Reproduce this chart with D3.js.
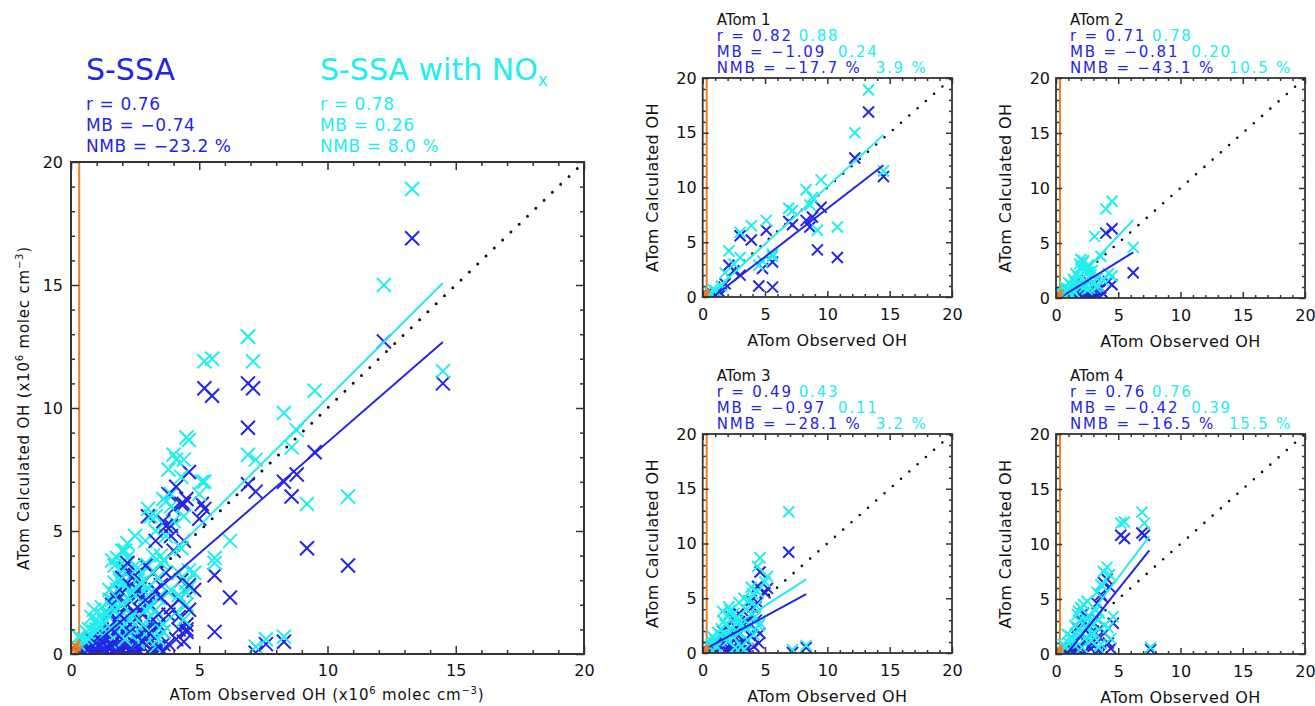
<!DOCTYPE html>
<html>
<head>
<meta charset="utf-8">
<script src="https://cdn.jsdelivr.net/npm/d3@7"></script>
<style>
body { margin: 0; background: #fff; }
text { font-family: "DejaVu Sans", sans-serif; }
</style>
</head>
<body>
<script>
// ---- data (x = observed OH, y = calculated OH, 1e6 molec cm-3) ----
var atom1Obs = [13.3, 12.2, 14.5, 9.5, 10.8, 9.2, 8.3, 8.6, 7.2, 8.8, 5.1, 3.0, 3.9, 2.1, 3.0, 4.5, 5.6, 5.6, 2.5, 1.5, 1.0, 0.6, 4.8, 6.9, 1.8, 0.8];
var atom1SSA = [16.9, 12.7, 11.0, 8.2, 3.6, 4.3, 7.0, 6.4, 6.6, 7.3, 6.1, 5.6, 5.2, 2.9, 2.0, 1.0, 0.9, 3.2, 2.4, 0.3, 0.2, 0.1, 2.6, 6.9, 1.2, 0.3];
var atom1NOx = [18.9, 15.0, 11.5, 10.7, 6.4, 6.1, 9.8, 8.4, 7.9, 9.1, 7.0, 5.9, 6.5, 4.2, 3.6, 2.9, 3.7, 3.9, 3.0, 1.0, 0.6, 0.4, 3.3, 8.1, 2.2, 0.7];

var atom2Obs = [6.2, 4.5, 4.0, 3.1, 3.6, 4.5, 2.6, 2.2, 2.0, 1.8, 2.4, 1.5, 1.2, 0.9, 0.6, 1.0, 2.8, 3.3, 2.0, 1.6, 0.5, 1.3, 2.5, 4.2, 3.0, 2.3, 1.9, 0.8, 1.1, 2.7, 3.4, 0.4,
                0.7, 1.4, 1.7, 2.1, 2.6, 3.2, 2.9, 1.9, 2.2, 1.0, 0.3, 2.5, 3.8, 1.5];
var atom2SSA = [2.3, 6.3, 5.9, 1.3, 0.9, 1.2, 0.8, 0.5, 0.9, 0.3, 0.2, 0.6, 0.2, 0.1, 0.1, 0.4, 0.3, 0.7, 1.2, 0.4, 0.0, 0.1, 1.6, 1.5, 0.5, 0.1, 0.0, 0.2, 0.0, 0.1, 0.2, 0.1,
                0.0, 0.1, 0.0, 0.3, 0.4, 0.1, 0.6, 0.7, 1.3, 0.2, 0.0, 0.0, 0.4, 0.0];
var atom2NOx = [4.6, 8.8, 8.1, 5.6, 3.8, 2.0, 2.4, 3.3, 2.8, 1.9, 1.6, 1.5, 1.2, 0.9, 0.5, 0.6, 2.1, 1.8, 3.5, 2.2, 0.3, 0.8, 2.7, 2.2, 1.4, 1.0, 1.2, 0.7, 0.4, 0.9, 1.1, 0.6,
                1.0, 1.7, 1.3, 2.6, 3.0, 1.0, 2.5, 3.1, 3.4, 1.4, 0.7, 0.8, 1.6, 0.5];

var atom3Obs = [6.9, 4.6, 4.4, 5.2, 5.0, 4.5, 7.2, 8.3, 4.0, 3.7, 3.3, 2.5, 2.0, 2.8, 2.3, 1.8, 1.4, 1.0, 0.7, 3.6, 3.1, 2.6, 4.2, 4.6, 3.9, 1.6, 2.1, 1.2, 0.5, 4.4, 3.4, 2.9, 1.9, 0.9,
                2.2, 2.7, 3.0, 3.5, 1.5, 2.4, 3.8, 4.3, 1.1, 0.8, 3.3, 2.0, 1.7, 4.1, 2.9];
var atom3SSA = [9.2, 7.4, 6.1, 5.9, 5.5, 0.9, 0.05, 0.5, 4.2, 3.3, 2.6, 3.0, 2.5, 1.6, 0.9, 1.4, 0.6, 0.3, 0.2, 0.4, 0.2, 0.1, 2.2, 1.8, 4.8, 2.0, 3.5, 1.0, 0.1, 4.6, 1.2, 0.7, 0.3, 0.1,
                2.0, 2.3, 1.0, 2.8, 1.6, 0.5, 1.6, 3.0, 0.1, 0.6, 0.0, 0.2, 0.9, 0.6, 3.6];
var atom3NOx = [12.9, 8.7, 7.9, 7.0, 6.5, 2.5, 0.3, 0.7, 5.4, 4.8, 5.0, 3.6, 3.4, 2.9, 2.2, 2.6, 1.6, 1.2, 0.8, 1.2, 0.6, 0.5, 3.3, 2.7, 6.0, 3.8, 4.2, 1.9, 0.6, 5.6, 2.3, 1.8, 1.5, 0.9,
                3.9, 3.2, 2.4, 4.0, 2.2, 1.5, 2.5, 4.3, 0.6, 1.5, 0.3, 1.1, 2.9, 1.7, 4.6];

var atom4Obs = [6.9, 7.1, 5.2, 5.5, 4.1, 3.8, 4.3, 3.6, 3.3, 7.6, 4.2, 3.4, 2.2, 2.0, 1.8, 2.6, 3.0, 3.4, 2.8, 2.4, 1.5, 1.2, 1.0, 0.7, 1.6, 2.0, 3.7, 0.4, 4.6, 2.9, 3.9, 1.3,
                1.9, 2.3, 2.7, 3.1, 3.5, 1.4, 0.9, 1.7, 2.5, 3.2, 0.6, 2.1, 4.4, 3.6];
var atom4SSA = [11.0, 10.8, 10.8, 10.5, 6.8, 6.5, 6.1, 5.4, 4.6, 0.4, 1.0, 1.6, 3.7, 3.1, 2.2, 2.6, 2.1, 0.3, 0.5, 1.3, 1.1, 0.5, 0.2, 0.1, 0.3, 0.6, 5.2, 0.0, 2.8, 1.0, 1.9, 0.2,
                1.6, 0.2, 1.8, 0.8, 2.3, 0.3, 0.5, 2.4, 3.2, 3.3, 0.0, 0.0, 0.5, 0.1];
var atom4NOx = [12.9, 11.9, 11.9, 12.0, 7.9, 7.5, 7.2, 6.3, 5.6, 0.6, 2.4, 3.1, 4.5, 4.2, 3.9, 3.5, 2.7, 0.6, 1.2, 2.5, 2.6, 1.6, 1.0, 0.6, 1.9, 2.0, 6.2, 0.3, 3.4, 1.8, 2.6, 1.3,
                3.0, 1.4, 2.9, 1.9, 3.7, 0.9, 1.8, 3.6, 4.8, 4.0, 0.9, 0.6, 1.4, 0.9];

// orange: points near origin and the vertical reference line
var orangeObs = [0.1, 0.2, 0.15];
var orangeCalc = [0.2, 0.1, 0.35];
var orangeLineX = 0.32;

// fits [slope, intercept, xStart, xEnd] : all, ATom1..4
var fitSSA = [[0.905, -0.44, 0.5, 14.5], [0.88, -0.73, 0.83, 14.5], [0.70, -0.19, 0.3, 6.2], [0.62, 0.23, 0.3, 8.3], [1.42, -1.22, 0.86, 7.5]];
var fitNOx = [[1.04, 0.0, 0.25, 14.5], [1.05, -0.42, 0.4, 14.5], [1.2, -0.35, 0.3, 6.2], [0.73, 0.66, 0.3, 8.3], [1.49, -0.48, 0.32, 7.5]];

// statistics : all, ATom1..4
var rSSA = [0.76, 0.82, 0.71, 0.49, 0.76];
var rNOx = [0.78, 0.88, 0.78, 0.43, 0.76];
var mbSSA = [-0.74, -1.09, -0.81, -0.97, -0.42];
var mbNOx = [0.26, 0.24, 0.20, 0.11, 0.39];
var nmbSSA = [-23.2, -17.7, -43.1, -28.1, -16.5];
var nmbNOx = [8.0, 3.9, 10.5, 3.2, 15.5];

var campaigns = ["ATom 1", "ATom 2", "ATom 3", "ATom 4"];
var majorTicks = [0, 5, 10, 15, 20];
var minorTicks = d3.range(0, 21).filter(function(d) { return d % 5 != 0; });

var obsAll = [atom1Obs, atom2Obs, atom3Obs, atom4Obs];
var ssaAll = [atom1SSA, atom2SSA, atom3SSA, atom4SSA];
var noxAll = [atom1NOx, atom2NOx, atom3NOx, atom4NOx];

var blue = "#2525e6", cyan = "#22eeee", orange = "#f07d1e", axisCol = "#333";
var f2 = d3.format(".2f"), f1 = d3.format(".1f");

var width = 1315, height = 706;
var svg = d3.select("body").append("svg")
    .attr("width", width)
    .attr("height", height);

function cross(s) {
    return "M" + (-s) + "," + (-s) + "L" + s + "," + s + "M" + (-s) + "," + s + "L" + s + "," + (-s);
}

function drawPanel(id, box, sets, fitIdx, opt) {
    var g = svg.append("g").attr("transform", "translate(" + box.x + "," + box.y + ")");
    var x = d3.scaleLinear().domain([0, 20]).range([0, box.w]);
    var y = d3.scaleLinear().domain([0, 20]).range([box.h, 0]);

    g.append("clipPath").attr("id", "clip" + id)
      .append("rect").attr("width", box.w).attr("height", box.h);
    var plot = g.append("g").attr("clip-path", "url(#clip" + id + ")");

    // orange reference line
    plot.append("line")
        .attr("x1", x(orangeLineX)).attr("x2", x(orangeLineX))
        .attr("y1", y(0)).attr("y2", y(20))
        .attr("stroke", orange).attr("stroke-width", 2);

    // 1:1 dotted
    plot.append("line")
        .attr("x1", x(0)).attr("y1", y(0)).attr("x2", x(20)).attr("y2", y(20))
        .attr("stroke", "#111").attr("stroke-width", opt.dot)
        .attr("stroke-linecap", "round")
        .attr("stroke-dasharray", "0," + opt.dotGap);

    // markers: per campaign, S-SSA then S-SSA with NOx
    sets.forEach(function(k) {
        var pts = obsAll[k].map(function(v, i) { return [v, ssaAll[k][i], noxAll[k][i]]; });
        plot.selectAll(null).data(pts).enter().append("path")
            .attr("d", cross(opt.ms))
            .attr("transform", function(d) { return "translate(" + x(d[0]) + "," + y(d[1]) + ")"; })
            .attr("stroke", blue).attr("stroke-width", 2).attr("fill", "none");
        plot.selectAll(null).data(pts).enter().append("path")
            .attr("d", cross(opt.ms))
            .attr("transform", function(d) { return "translate(" + x(d[0]) + "," + y(d[2]) + ")"; })
            .attr("stroke", cyan).attr("stroke-width", 2).attr("fill", "none");
    });

    // fit lines
    var line = d3.line().x(function(d) { return x(d[0]); }).y(function(d) { return y(d[1]); });
    [[fitSSA[fitIdx], blue], [fitNOx[fitIdx], cyan]].forEach(function(f) {
        var p = f[0];
        plot.append("path")
            .attr("d", line([[p[2], p[0] * p[2] + p[1]], [p[3], p[0] * p[3] + p[1]]]))
            .attr("stroke", f[1]).attr("stroke-width", 2).attr("fill", "none");
    });

    // orange points near origin
    plot.selectAll(null).data(d3.zip(orangeObs, orangeCalc)).enter().append("path")
        .attr("d", cross(opt.ms * 0.8))
        .attr("transform", function(d) { return "translate(" + x(d[0]) + "," + y(d[1]) + ")"; })
        .attr("stroke", orange).attr("stroke-width", 2.5).attr("fill", "none");

    // axes, ticks inward on all four sides
    var axes = [
        [d3.axisBottom(x), "translate(0," + box.h + ")", true],
        [d3.axisLeft(y), "translate(0,0)", true],
        [d3.axisTop(x), "translate(0,0)", false],
        [d3.axisRight(y), "translate(" + box.w + ",0)", false]
    ];
    axes.forEach(function(a, i) {
        var major = a[0].tickValues(majorTicks).tickSize(-opt.tick).tickSizeOuter(0)
            .tickPadding(i == 0 ? opt.padX : opt.padY)
            .tickFormat(a[2] ? d3.format("d") : "");
        var ag = g.append("g").attr("transform", a[1]).call(major);
        ag.select(".domain").remove();
        ag.selectAll("line").attr("stroke", axisCol).attr("stroke-width", 1.5);
        ag.selectAll("text").attr("font-size", opt.tickFont).attr("fill", "#111")
            .attr("font-family", "DejaVu Sans");
        var mAxis = [d3.axisBottom, d3.axisLeft, d3.axisTop, d3.axisRight][i](i % 2 ? y : x)
            .tickValues(minorTicks).tickSize(-opt.tick / 2).tickSizeOuter(0).tickFormat("");
        var mg = g.append("g").attr("transform", a[1]).call(mAxis);
        mg.select(".domain").remove();
        mg.selectAll("line").attr("stroke", axisCol).attr("stroke-width", 1.5);
    });

    g.append("rect").attr("width", box.w).attr("height", box.h)
        .attr("fill", "none").attr("stroke", axisCol).attr("stroke-width", opt.frame);
    return g;
}

// ---- main panel (all campaigns) ----
var mainBox = {x: 71, y: 162, w: 513, h: 492};
drawPanel("main", mainBox, [0, 1, 2, 3], 0,
    {ms: 7, dot: 3, dotGap: 11.5, tick: 8, padX: 11, padY: 8, tickFont: 16, frame: 2});

var head = svg.append("g");
head.append("text").attr("x", 86).attr("y", 80).attr("font-size", 30).attr("fill", blue).text("S-SSA");
var t2 = head.append("text").attr("x", 320).attr("y", 80).attr("font-size", 30).attr("fill", cyan);
t2.append("tspan").text("S-SSA with NO");
t2.append("tspan").attr("font-size", 17).attr("dy", 6).text("x");

function mainStats(x0, col, r, mb, nmb) {
    var lines = ["r = " + f2(r), "MB = " + f2(mb), "NMB = " + f1(nmb) + " %"];
    head.selectAll(null).data(lines).enter().append("text")
        .attr("x", x0).attr("y", function(d, i) { return 110 + i * 21; })
        .attr("font-size", 17).attr("letter-spacing", 0.6).attr("fill", col)
        .text(function(d) { return d; });
}
mainStats(86, blue, rSSA[0], mbSSA[0], nmbSSA[0]);
mainStats(320, cyan, rNOx[0], mbNOx[0], nmbNOx[0]);

function unitLabel(sel, base) {
    sel.append("tspan").text(base + " (x10");
    sel.append("tspan").attr("dy", -6).attr("font-size", 10).text("6");
    sel.append("tspan").attr("dy", 6).text(" molec cm");
    sel.append("tspan").attr("dy", -6).attr("font-size", 10).text("\u22123");
    sel.append("tspan").attr("dy", 6).text(")");
}
unitLabel(svg.append("text").attr("x", 327).attr("y", 700).attr("text-anchor", "middle")
    .attr("font-size", 15).attr("letter-spacing", 0.8).attr("fill", "#111"), "ATom Observed OH");
unitLabel(svg.append("text").attr("transform", "translate(29,408) rotate(-90)").attr("text-anchor", "middle")
    .attr("font-size", 15).attr("letter-spacing", 0.8).attr("fill", "#111"), "ATom Calculated OH");

// ---- small panels, one per campaign ----
var smallBoxes = [
    {x: 702.7, y: 78, w: 249.3, h: 219},
    {x: 1056, y: 78, w: 249, h: 220},
    {x: 702.7, y: 434, w: 249.3, h: 219},
    {x: 1056, y: 434, w: 249, h: 220}
];
smallBoxes.forEach(function(b, k) {
    var g = drawPanel("p" + k, b, [k], k + 1,
        {ms: 5.5, dot: 2.6, dotGap: 11, tick: 6, padX: 12, padY: 6, tickFont: 16, frame: 1.8});
    var tx = 14;
    g.append("text").attr("x", tx).attr("y", -53).attr("font-size", 15).attr("fill", "#111").text(campaigns[k]);
    var rows = [
        ["r = " + f2(rSSA[k + 1]), f2(rNOx[k + 1]), 6],
        ["MB = " + f2(mbSSA[k + 1]), f2(mbNOx[k + 1]), 12],
        ["NMB = " + f1(nmbSSA[k + 1]) + " %", f1(nmbNOx[k + 1]) + " %", 14]
    ];
    rows.forEach(function(r, i) {
        var t = g.append("text").attr("x", tx).attr("y", -37 + i * 16)
            .attr("font-size", 15).attr("letter-spacing", 1.8);
        t.append("tspan").attr("fill", blue).text(r[0]);
        t.append("tspan").attr("fill", cyan).attr("dx", r[2]).text(r[1]);
    });
    g.append("text").attr("x", b.w / 2).attr("y", b.h + 49).attr("text-anchor", "middle")
        .attr("font-size", 16).attr("letter-spacing", 0.4).attr("fill", "#111").text("ATom Observed OH");
    g.append("text").attr("transform", "translate(-45," + (b.h / 2) + ") rotate(-90)")
        .attr("text-anchor", "middle").attr("font-size", 16).attr("letter-spacing", 0.4)
        .attr("fill", "#111").text("ATom Calculated OH");
});
</script>
</body>
</html>
